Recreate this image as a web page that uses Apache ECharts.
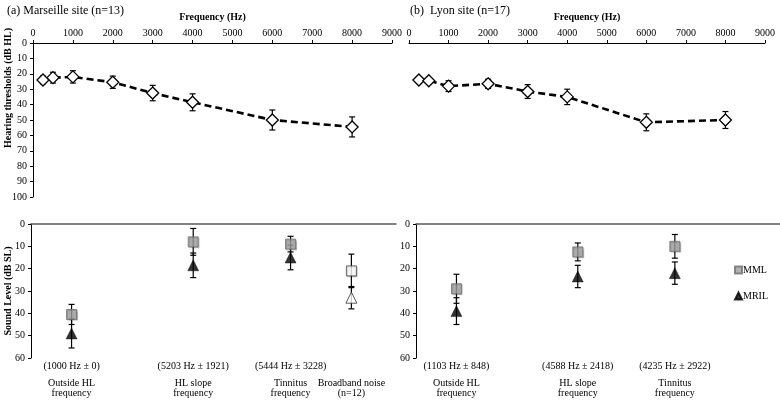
<!DOCTYPE html>
<html><head><meta charset="utf-8">
<script src="https://cdn.jsdelivr.net/npm/echarts@6/dist/echarts.min.js"></script>
<style>html,body{margin:0;padding:0;background:#fff}#c{width:780px;height:401px}</style>
</head><body><div id="c"></div>
<script>
// ---------- data ----------
const freqs = [250, 500, 1000, 2000, 3000, 4000, 6000, 8000];
const marseilleHL = [24, 22.5, 22, 25.5, 32.5, 38.5, 50, 54.5];
const marseilleHLErr = [2.5, 3.5, 4, 4, 5, 5.5, 6.5, 6.5];
const lyonHL = [24, 24.5, 28, 26.5, 31.5, 35, 51.5, 50];
const lyonHLErr = [1, 1.5, 3.5, 3, 4.5, 5, 5.5, 5.5];

const catPos = [1, 4, 6.4, 7.9];
const marseilleCats = ['Outside HL\nfrequency', 'HL slope\nfrequency', 'Tinnitus\nfrequency', 'Broadband noise\n(n=12)'];
const marseilleNotes = ['(1000 Hz ± 0)', '(5203 Hz ± 1921)', '(5444 Hz ± 3228)', ''];
const marseilleMML = [40.5, 8, 9, 21];
const marseilleMMLErr = [4.5, 6, 3.5, 7.5];
const marseilleMRIL = [49, 18.5, 15, 33];
const marseilleMRILErr = [6.5, 5.5, 5.5, 5];

const lyonCats = ['Outside HL\nfrequency', 'HL slope\nfrequency', 'Tinnitus\nfrequency'];
const lyonNotes = ['(1103 Hz ± 848)', '(4588 Hz ± 2418)', '(4235 Hz ± 2922)'];
const lyonMML = [29, 12.5, 10];
const lyonMMLErr = [6.5, 4, 5.3];
const lyonMRIL = [39, 23.5, 22];
const lyonMRILErr = [6, 5, 5];

const broadbandLabel = 'Broadband noise\n(n=12)';

// ---------- helpers ----------
const serif = '"Liberation Serif", "DejaVu Serif", serif';
const zip = (xs, ys) => xs.map((x, i) => [x, ys[i]]);
const zip3 = (xs, ys, es) => xs.map((x, i) => [x, ys[i], es[i]]);

function errSeries(xs, ys, es, xi, yi) {
  return {
    type: 'custom', name: 'err', xAxisIndex: xi, yAxisIndex: yi, z: 1,
    data: zip3(xs, ys, es), encode: { x: 0, y: 1 }, silent: true,
    renderItem: (params, api) => {
      const x = api.value(0), y = api.value(1), e = api.value(2);
      const a = api.coord([x, y - e]), b = api.coord([x, y + e]);
      const w = 3, style = { stroke: '#000', lineWidth: 1.2 };
      return { type: 'group', children: [
        { type: 'line', shape: { x1: a[0], y1: a[1], x2: b[0], y2: b[1] }, style },
        { type: 'line', shape: { x1: a[0] - w, y1: a[1], x2: a[0] + w, y2: a[1] }, style },
        { type: 'line', shape: { x1: b[0] - w, y1: b[1], x2: b[0] + w, y2: b[1] }, style }
      ]};
    }
  };
}

function hlLine(ys, xi, yi) {
  return {
    type: 'line', name: 'HL', xAxisIndex: xi, yAxisIndex: yi, z: 3,
    data: zip(freqs, ys), symbol: 'diamond', symbolSize: 12,
    itemStyle: { color: '#fff', borderColor: '#000', borderWidth: 1.3 },
    lineStyle: { color: '#000', width: 2.6, type: [7, 4] },
    animation: false
  };
}

function mmlSeries(ys, cats, xi, yi) {
  return {
    type: 'scatter', name: 'MML', xAxisIndex: xi, yAxisIndex: yi, z: 3,
    symbol: 'rect', symbolSize: 10,
    itemStyle: { color: '#a0a0a0', borderColor: '#6e6e6e', borderWidth: 1,
      shadowBlur: 1, shadowColor: 'rgba(0,0,0,0.25)', shadowOffsetX: 1, shadowOffsetY: 1 },
    data: catPos.slice(0, ys.length).map((x, i) => cats[i] === broadbandLabel
      ? { value: [x, ys[i]], itemStyle: { color: '#fff', borderColor: '#444' } }
      : { value: [x, ys[i]] })
  };
}

function mrilSeries(ys, cats, xi, yi) {
  return {
    type: 'scatter', name: 'MRIL', xAxisIndex: xi, yAxisIndex: yi, z: 3,
    symbol: 'triangle', symbolSize: 11,
    itemStyle: { color: '#000', borderColor: '#000', borderWidth: 0.5 },
    data: catPos.slice(0, ys.length).map((x, i) => cats[i] === broadbandLabel
      ? { value: [x, ys[i]], itemStyle: { color: '#fff', borderColor: '#333', borderWidth: 1 } }
      : { value: [x, ys[i]] })
  };
}

const labelStyle = { fontFamily: serif, fontSize: 10, color: '#000' };

function freqAxis(gi) {
  return {
    gridIndex: gi, type: 'value', position: 'top', min: 0, max: 9000, interval: 1000,
    name: 'Frequency (Hz)', nameLocation: 'middle', nameGap: 21,
    nameTextStyle: { fontFamily: serif, fontSize: 10, fontWeight: 'bold', color: '#000' },
    axisLine: { show: true, lineStyle: { color: '#000', width: 1 } },
    axisTick: { show: true, length: 3, lineStyle: { color: '#000' } },
    axisLabel: Object.assign({ margin: 5, formatter: v => String(v) }, labelStyle),
    splitLine: { show: false }
  };
}

function catAxes(gi, cats, notes) {
  const pos = catPos.slice(0, cats.length);
  return [
    { gridIndex: gi, type: 'value', position: 'top', min: 0, max: 9,
      axisLine: { show: true, onZero: false, lineStyle: { color: '#595959', width: 1.6 } },
      axisTick: { show: false }, axisLabel: { show: false }, splitLine: { show: false } },
    { gridIndex: gi, type: 'value', position: 'bottom', min: 0, max: 9,
      axisLine: { show: false, onZero: false }, axisTick: { show: false }, splitLine: { show: false },
      axisLabel: Object.assign({ customValues: pos, margin: 3,
        formatter: v => notes[pos.indexOf(v)] || '' }, labelStyle) },
    { gridIndex: gi, type: 'value', position: 'bottom', min: 0, max: 9,
      axisLine: { show: false, onZero: false }, axisTick: { show: false }, splitLine: { show: false },
      axisLabel: Object.assign({ customValues: pos, margin: 20, lineHeight: 10.5, align: 'center',
        formatter: v => cats[pos.indexOf(v)] || '' }, labelStyle) }
  ];
}

function levelAxis(gi) {
  return {
    gridIndex: gi, type: 'value', inverse: true, min: 0, max: 60, interval: 10,
    axisLine: { show: true, onZero: false, lineStyle: { color: '#000' } },
    axisTick: { show: true, length: 3, lineStyle: { color: '#000' } },
    axisLabel: Object.assign({ margin: 6 }, labelStyle),
    splitLine: { show: false }
  };
}

const option = {
  animation: false,
  backgroundColor: '#fff',
  title: [
    { text: '(a) Marseille site (n=13)', left: 2, top: 0,
      textStyle: { fontFamily: serif, fontSize: 12, fontWeight: 'normal', color: '#000' } },
    { text: '(b)  Lyon site (n=17)', left: 405, top: 0,
      textStyle: { fontFamily: serif, fontSize: 12, fontWeight: 'normal', color: '#000' } }
  ],
  legend: {
    data: ['MML', 'MRIL'], orient: 'vertical', left: 729, top: 260,
    itemWidth: 7, itemHeight: 7, itemGap: 16,
    textStyle: { fontFamily: serif, fontSize: 10, color: '#000', padding: [0, 0, 0, -4] }
  },
  graphic: [
    { type: 'text', rotation: Math.PI / 2, x: 8, y: 88,
      style: { text: 'Hearing thresholds (dB HL)', font: 'bold 10px ' + serif, fill: '#000',
        textAlign: 'center', textVerticalAlign: 'middle' } },
    { type: 'text', rotation: Math.PI / 2, x: 8, y: 291,
      style: { text: 'Sound Level (dB SL)', font: 'bold 10px ' + serif, fill: '#000',
        textAlign: 'center', textVerticalAlign: 'middle' } }
  ],
  grid: [
    { left: 33, top: 43, width: 359, height: 154 },
    { left: 409, top: 43, width: 356, height: 154 },
    { left: 31, top: 224, width: 365, height: 134 },
    { left: 416, top: 224, width: 365, height: 134 }
  ],
  xAxis: [
    freqAxis(0),
    freqAxis(1),
    ...catAxes(2, marseilleCats, marseilleNotes),
    ...catAxes(3, lyonCats, lyonNotes)
  ],
  yAxis: [
    { gridIndex: 0, type: 'value', inverse: true, min: 0, max: 100, interval: 10,
      axisLine: { show: true, onZero: false, lineStyle: { color: '#000' } },
      axisTick: { show: true, length: 3, lineStyle: { color: '#000' } },
      axisLabel: Object.assign({ margin: 6 }, labelStyle), splitLine: { show: false } },
    { gridIndex: 1, type: 'value', inverse: true, min: 0, max: 100, show: false },
    levelAxis(2),
    levelAxis(3)
  ],
  series: [
    errSeries(freqs, marseilleHL, marseilleHLErr, 0, 0),
    hlLine(marseilleHL, 0, 0),
    errSeries(freqs, lyonHL, lyonHLErr, 1, 1),
    hlLine(lyonHL, 1, 1),
    errSeries(catPos, marseilleMML, marseilleMMLErr, 2, 2),
    errSeries(catPos, marseilleMRIL, marseilleMRILErr, 2, 2),
    mmlSeries(marseilleMML, marseilleCats, 2, 2),
    mrilSeries(marseilleMRIL, marseilleCats, 2, 2),
    errSeries(catPos.slice(0, 3), lyonMML, lyonMMLErr, 5, 3),
    errSeries(catPos.slice(0, 3), lyonMRIL, lyonMRILErr, 5, 3),
    mmlSeries(lyonMML, lyonCats, 5, 3),
    mrilSeries(lyonMRIL, lyonCats, 5, 3)
  ]
};

const chart = echarts.init(document.getElementById('c'), null, { renderer: 'canvas' });
chart.setOption(option);
</script>
</body></html>
